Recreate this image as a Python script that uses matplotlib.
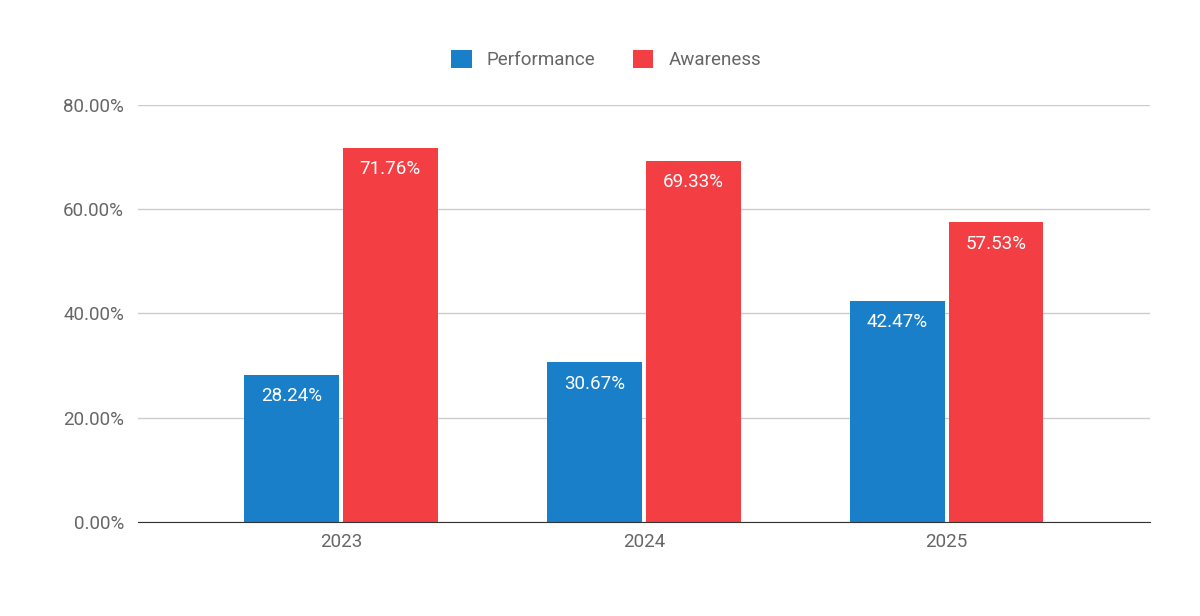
import matplotlib.pyplot as plt
import numpy as np

years = ["2023", "2024", "2025"]
performance = [28.24, 30.67, 42.47]
awareness = [71.76, 69.33, 57.53]
yticks = [0, 20, 40, 60, 80]

plt.rcParams['font.family'] = ['Roboto', 'DejaVu Sans']

fig = plt.figure(figsize=(12, 6.16), dpi=100)
ax = fig.add_axes([0.115, 0.1526, 0.843, 0.677])

x = np.arange(len(years))
w = 0.313
off = 0.163
blue = "#1a7fc9"
red = "#f33f43"

b1 = ax.bar(x - off, performance, w, color=blue, label="Performance", zorder=3)
b2 = ax.bar(x + off, awareness, w, color=red, label="Awareness", zorder=3)

for bars, vals in ((b1, performance), (b2, awareness)):
    for bar, v in zip(bars, vals):
        ax.text(bar.get_x() + bar.get_width() / 2, v - 2.4, f"{v:.2f}%",
                ha="center", va="top", color="white", fontsize=13.5, zorder=4)

ax.set_xlim(-0.67, 2.67)
ax.set_ylim(0, 80)
ax.set_yticks(yticks)
ax.set_yticklabels([f"{t:.2f}%" for t in yticks])
ax.set_xticks(x)
ax.set_xticklabels(years)
ax.grid(axis="y", color="#cccccc", linewidth=1, zorder=0)
for s in ["top", "right", "left"]:
    ax.spines[s].set_visible(False)
ax.spines["bottom"].set_color("#333333")
ax.spines["bottom"].set_zorder(5)
ax.tick_params(axis="both", length=0, labelsize=13.5, colors="#666666", pad=10)
ax.tick_params(axis="x", pad=8)

fig.legend(handles=[b1, b2], loc="center", bbox_to_anchor=(0.505, 0.903), ncol=2,
           frameon=False, fontsize=13.5, handlelength=1.1, handleheight=1.1,
           columnspacing=2.0, handletextpad=0.8, labelcolor="#666666")

fig.savefig("out.png", dpi=100)
